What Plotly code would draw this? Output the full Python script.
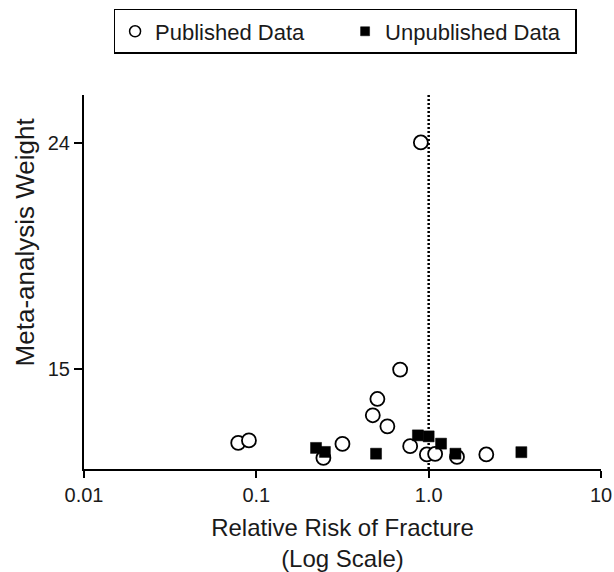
import plotly.graph_objects as go

# Published data (open circles)
pub_rr = [0.0785, 0.0906, 0.245, 0.316, 0.474, 0.504, 0.576, 0.683, 0.901, 0.781, 0.976, 1.09, 1.46, 2.16]
pub_w = [12.04, 12.14, 11.44, 12.00, 13.14, 13.79, 12.70, 14.96, 24.01, 11.91, 11.58, 11.60, 11.48, 11.58]

# Unpublished data (filled squares)
unpub_rr = [0.222, 0.250, 0.495, 0.866, 1.00, 1.18, 1.43, 3.45]
unpub_w = [11.84, 11.68, 11.61, 12.34, 12.30, 12.01, 11.61, 11.67]

x_tickvals = [0.01, 0.1, 1, 10]
x_ticktext = ["0.01", "0.1", "1.0", "10"]
y_tickvals = [15, 24]
y_range = [11.0, 25.9]
ref_rr = [1, 1]

FONT = "Liberation Sans, Arial, Helvetica, sans-serif"
INK = "#1a1a1a"

fig = go.Figure()

fig.add_trace(go.Scatter(
    x=ref_rr, y=y_range, mode="lines",
    line=dict(color="black", width=2.5, dash="2px,2px"),
    showlegend=False, hoverinfo="skip"))

fig.add_trace(go.Scatter(
    x=pub_rr, y=pub_w, mode="markers", showlegend=False,
    marker=dict(symbol="circle", size=14, color="white",
                line=dict(color="black", width=1.8))))

fig.add_trace(go.Scatter(
    x=unpub_rr, y=unpub_w, mode="markers", showlegend=False,
    marker=dict(symbol="square", size=11, color="black",
                line=dict(color="black", width=0.5))))

# legend entries
fig.add_trace(go.Scatter(
    x=[None], y=[None], mode="markers", name="Published Data",
    marker=dict(symbol="circle", size=11, color="white",
                line=dict(color="black", width=1.5))))
fig.add_trace(go.Scatter(
    x=[None], y=[None], mode="markers", name="Unpublished Data",
    marker=dict(symbol="square", size=9, color="black",
                line=dict(color="black", width=0.5))))

fig.update_layout(
    width=614, height=572,
    margin=dict(l=84, r=13, t=95, b=103, autoexpand=False),
    paper_bgcolor="white", plot_bgcolor="white",
    font=dict(family=FONT, size=20, color=INK),
    legend=dict(
        orientation="h", x=0.505, xanchor="center", y=1.23, yanchor="top",
        bordercolor="black", borderwidth=1.5,
        font=dict(family=FONT, size=22, color=INK),
        entrywidth=185, itemwidth=30,
    ),
    annotations=[dict(
        text="Meta-analysis Weight", textangle=-90,
        xref="paper", yref="paper", x=-0.114, y=0.606,
        xanchor="center", yanchor="middle", showarrow=False,
        font=dict(family=FONT, size=26, color=INK),
    )],
)

fig.update_xaxes(
    type="log", range=[-2, 1], automargin=False,
    tickvals=x_tickvals, ticktext=x_ticktext,
    showgrid=False, zeroline=False,
    showline=True, linecolor="black", linewidth=2,
    ticks="outside", ticklen=7, tickwidth=2, tickcolor="black",
    tickfont=dict(family=FONT, size=20, color=INK),
    title=dict(text="Relative Risk of Fracture<br>(Log Scale)",
               font=dict(family=FONT, size=24, color=INK), standoff=18),
)

fig.update_yaxes(
    range=y_range, automargin=False,
    tickvals=y_tickvals,
    showgrid=False, zeroline=False,
    showline=True, linecolor="black", linewidth=2,
    ticks="outside", ticklen=8, tickwidth=2, tickcolor="black",
    tickfont=dict(family=FONT, size=20, color=INK),
)

fig.write_html("out.html")
